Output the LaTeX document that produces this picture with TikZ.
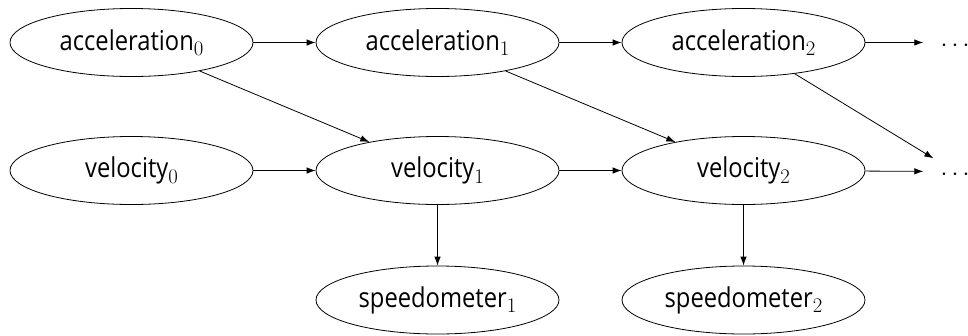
\documentclass[tikz,border=0pt]{standalone}
\usepackage[no-math]{fontspec}
\setmainfont[FakeStretch=0.87]{Open Sans}
\usetikzlibrary{shapes.geometric,arrows.meta}
% time index: a lowered Computer Modern digit
\newcommand\tidx[1]{\raisebox{-5.5pt}{\fontsize{21}{21}\selectfont$#1$}}
\begin{document}
\begin{tikzpicture}[x=1pt,y=-1pt,
  var/.style={ellipse,draw,line width=0.8pt,minimum width=243pt,minimum height=68pt,
    inner sep=0pt,font=\fontsize{27.3}{33}\selectfont},
  link/.style={-{Latex[length=9pt,width=6.5pt]},line width=0.8pt},
  more/.style={font=\fontsize{36}{40}\selectfont,inner xsep=17pt,inner ysep=4pt,
    text height=18pt,text depth=0pt}
]
\useasboundingbox (0,0) rectangle (968,335);

% time slices: acceleration, velocity, speedometer reading
\node[var] (a0) at (131.5,42.5) {acceleration\tidx{0}};
\node[var] (a1) at (437.5,42.5) {acceleration\tidx{1}};
\node[var] (a2) at (743.5,42.5) {acceleration\tidx{2}};
\node[more] (ad) at (955,42.5) {$\cdots$};

\node[var] (v0) at (131.5,170.5) {velocity\tidx{0}};
\node[var] (v1) at (437.5,170.5) {velocity\tidx{1}};
\node[var] (v2) at (743.5,170.5) {velocity\tidx{2}};
\node[more] (vd) at (955,171.5) {$\cdots$};

\node[var] (s1) at (437.5,300) {speedometer\tidx{1}};
\node[var] (s2) at (743.5,300) {speedometer\tidx{2}};

% transitions
\draw[link] (a0) -- (a1);
\draw[link] (a1) -- (a2);
\draw[link] (a2) -- (ad);
\draw[link] (v0) -- (v1);
\draw[link] (v1) -- (v2);
\draw[link] (v2) -- (vd);
\draw[link] (a0) -- (v1);
\draw[link] (a1) -- (v2);
\draw[link] (a2) -- (vd);
\draw[link] (v1) -- (s1);
\draw[link] (v2) -- (s2);
\end{tikzpicture}
\end{document}
